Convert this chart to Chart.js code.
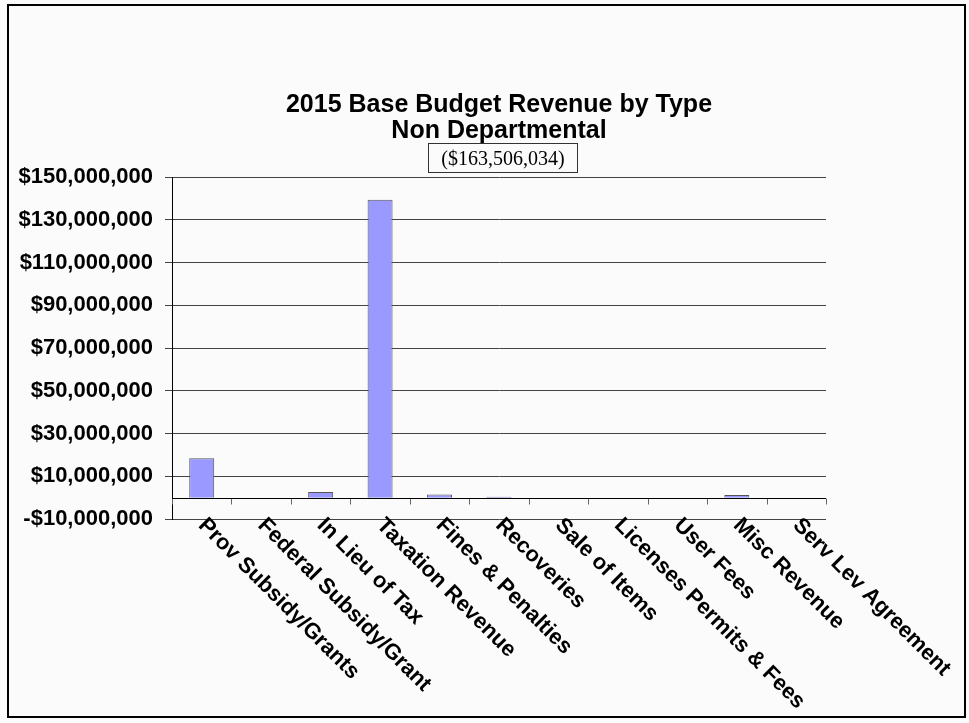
<!DOCTYPE html>
<html>
<head>
<meta charset="utf-8">
<script src="https://cdn.jsdelivr.net/npm/chart.js@4/dist/chart.umd.min.js"></script>
<style>
  html, body { margin: 0; padding: 0; background: #fbfbfb; }
  #wrap { width: 969px; height: 723px; position: relative; }
</style>
</head>
<body>
<div id="wrap"><canvas id="c" width="969" height="723"></canvas></div>
<script>
// Revenue categories and base budget amounts
const categories = [
  'Prov Subsidy/Grants', 'Federal Subsidy/Grant', 'In Lieu of Tax', 'Taxation Revenue',
  'Fines & Penalties', 'Recoveries', 'Sale of Items', 'Licenses Permits & Fees',
  'User Fees', 'Misc Revenue', 'Serv Lev Agreement'
];
const revenue = [
  18400000, 0, 2600000, 139400000,
  1500000, 400000, 0, 0,
  0, 1206034, 0
];
// Value-axis tick values
const yTickValues = [-10000000, 10000000, 30000000, 50000000, 70000000,
                     90000000, 110000000, 130000000, 150000000];
const titleLines = ['2015 Base Budget Revenue by Type', 'Non Departmental'];
const totalText = '($163,506,034)';

const SANS = '"Liberation Sans", Arial, sans-serif';
const SERIF = '"Liberation Serif", "Times New Roman", serif';

function money(v) {
  const s = Math.abs(v).toLocaleString('en-US');
  return (v < 0 ? '-$' : '$') + s;
}

// Frame, titles, total box, zero axis and slanted category labels
const decorations = {
  id: 'decorations',
  beforeDraw(chart) {
    const ctx = chart.ctx;
    ctx.save();
    ctx.fillStyle = '#fbfbfb';
    ctx.fillRect(0, 0, chart.width, chart.height);
    ctx.restore();
  },
  afterDatasetsDraw(chart) {
    const ctx = chart.ctx;
    const x = chart.scales.x, y = chart.scales.y;
    const area = chart.chartArea;
    const y0 = Math.round(y.getPixelForValue(0)) + 0.5;
    const band = x.getPixelForValue(1) - x.getPixelForValue(0);
    ctx.save();
    // category tick marks below the zero line
    ctx.strokeStyle = '#666';
    ctx.lineWidth = 1;
    for (let i = 0; i <= categories.length; i++) {
      const px = Math.round(x.getPixelForValue(0) - band / 2 + i * band) + 0.5;
      ctx.beginPath();
      ctx.moveTo(px, y0);
      ctx.lineTo(px, y0 + 6);
      ctx.stroke();
    }
    // zero line
    ctx.strokeStyle = '#000';
    ctx.beginPath();
    ctx.moveTo(area.left, y0);
    ctx.lineTo(area.right, y0);
    ctx.stroke();
    ctx.restore();
  },
  afterDraw(chart) {
    const ctx = chart.ctx;
    const x = chart.scales.x;
    const area = chart.chartArea;
    ctx.save();
    // slanted category labels
    ctx.fillStyle = '#000';
    ctx.font = 'bold 22px ' + SANS;
    ctx.textAlign = 'left';
    ctx.textBaseline = 'middle';
    categories.forEach((c, i) => {
      ctx.save();
      ctx.translate(x.getPixelForValue(i), area.bottom + 3);
      ctx.rotate(Math.PI / 4);
      ctx.fillText(c, 0, 0);
      ctx.restore();
    });
    // titles
    ctx.font = 'bold 25px ' + SANS;
    ctx.textAlign = 'center';
    ctx.textBaseline = 'alphabetic';
    ctx.fillText(titleLines[0], 499, 112);
    ctx.fillText(titleLines[1], 499, 138);
    // total box
    ctx.strokeStyle = '#333';
    ctx.lineWidth = 1;
    ctx.strokeRect(428.5, 143.5, 149, 29);
    ctx.font = '20px ' + SERIF;
    ctx.fillText(totalText, 503, 165);
    // outer frame
    ctx.lineWidth = 2;
    ctx.strokeStyle = '#000';
    ctx.strokeRect(8, 5, 957, 712);
    ctx.restore();
  }
};

new Chart(document.getElementById('c'), {
  type: 'bar',
  data: {
    labels: categories,
    datasets: [{
      data: revenue,
      backgroundColor: '#9999ff',
      borderColor: '#555',
      borderWidth: 1,
      barPercentage: 0.42,
      categoryPercentage: 1
    }]
  },
  options: {
    responsive: false,
    animation: false,
    devicePixelRatio: 1,
    layout: { padding: { left: 10, top: 177, right: 143, bottom: 204 } },
    plugins: { legend: { display: false }, title: { display: false }, tooltip: { enabled: false } },
    scales: {
      x: { display: false },
      y: {
        min: -10000000,
        max: 150000000,
        afterBuildTicks(scale) { scale.ticks = yTickValues.map(v => ({ value: v })); },
        afterFit(scale) { scale.width = 162; },
        ticks: {
          color: '#000',
          font: { family: SANS, size: 22, weight: 'bold' },
          padding: 12,
          callback: v => money(v)
        },
        grid: { color: '#444', lineWidth: 1, tickLength: 7 },
        border: { color: '#000', width: 1 }
      }
    }
  },
  plugins: [decorations]
});
</script>
</body>
</html>
